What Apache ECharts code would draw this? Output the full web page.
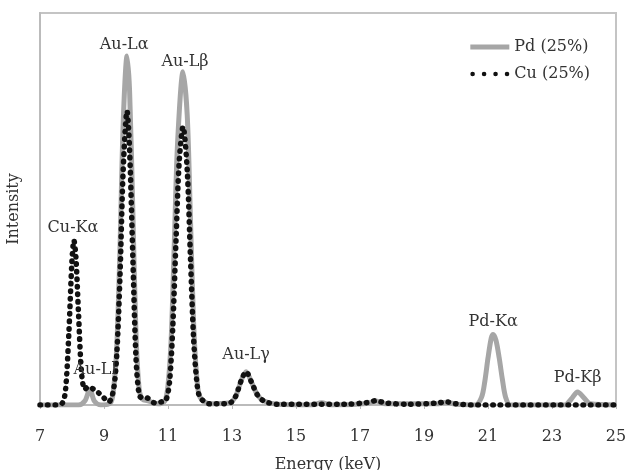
<!DOCTYPE html>
<html lang="en">
<head>
    <meta charset="UTF-8">
    <title>EDS spectrum</title>
    <script src="https://cdn.jsdelivr.net/npm/echarts@6/dist/echarts.min.js"></script>
    <style>
        html, body { margin: 0; padding: 0; background: #fff; }
        #chart { width: 625px; height: 470px; }
    </style>
</head>
<body>
    <div id="chart"></div>
    <script>
        // energy (keV) and intensity (0..100 = plot height)
        var pdEnergy = [7.0, 8.2, 8.4, 8.56, 8.7, 8.9, 9.2, 9.3, 9.4, 9.5, 9.6, 9.72, 9.8, 9.9, 10.0, 10.1, 10.2, 10.4, 10.7, 10.9,
            11.0, 11.1, 11.2, 11.3, 11.47, 11.6, 11.7, 11.8, 11.9, 12.0, 12.3, 12.9, 13.1, 13.3, 13.44, 13.6, 13.8, 14.0, 14.4,
            15.5, 15.8, 16.1, 17.2, 17.5, 17.8, 19.4, 19.7, 20.0, 20.6, 20.8, 20.9, 21.0, 21.1, 21.16, 21.25, 21.35, 21.45, 21.55,
            21.7, 23.4, 23.6, 23.8, 24.0, 24.2, 25.0];
        var pdValue = [0, 0, 1, 4, 1, 0, 0.5, 4, 15, 40, 72, 89, 80, 50, 18, 4, 1.5, 1, 0.3, 1,
            5, 17, 42, 67, 85, 74, 48, 21, 7, 2, 0.3, 0.5, 2, 6.5, 8.5, 6, 2.5, 1, 0.2,
            0, 0.6, 0, 0.4, 1, 0.3, 0.3, 0.7, 0.2, 0, 2, 6, 12, 17, 18, 16.5, 12, 6.5, 2,
            0, 0, 1.5, 3.3, 1.8, 0.3, 0];

        var cuEnergy = [7.0, 7.5, 7.7, 7.8, 7.9, 8.0, 8.06, 8.12, 8.2, 8.3, 8.4, 8.5, 8.6, 8.8, 9.0, 9.15, 9.3, 9.4, 9.5, 9.6,
            9.72, 9.8, 9.9, 10.0, 10.1, 10.2, 10.34, 10.6, 10.8, 10.94, 11.05, 11.15, 11.25, 11.35, 11.47, 11.6, 11.7, 11.8,
            11.9, 12.0, 12.3, 12.9, 13.1, 13.3, 13.44, 13.6, 13.8, 14.0, 14.4, 16.5, 17.2, 17.5, 17.8, 18.5, 19.4, 19.7,
            20.0, 20.5, 25.0];
        var cuValue = [0, 0, 0.5, 4, 18, 37, 42, 38, 24, 8, 4, 4.6, 4.4, 3.3, 1.8, 0.8, 4, 13, 33, 60,
            75, 65, 38, 12, 2.5, 1.8, 1.8, 0.5, 0.8, 1.3, 6, 20, 42, 62, 71, 60, 38, 17,
            6, 2, 0.3, 0.4, 2, 6.5, 8.5, 6, 2.5, 1, 0.2, 0.2, 0.6, 1.1, 0.5, 0.2, 0.5, 0.8,
            0.3, 0, 0];

        var xTicks = [7, 25, 2];
        var peakNames = ['Au-Lα', 'Au-Lβ', 'Cu-Kα', 'Au-Ll', 'Au-Lγ', 'Pd-Kα', 'Pd-Kβ'];
        var peakEnergy = [9.63, 11.53, 8.03, 8.72, 13.44, 21.16, 23.8];
        var peakLabelY = [91.8, 87.5, 45.2, 8.9, 12.8, 21.2, 6.9];

        var serif = '"DejaVu Serif", "Liberation Serif", serif';
        // four round dots for the Cu legend sample
        var dotsIcon = 'path://M0,2a2,2 0 1,0 4,0a2,2 0 1,0 -4,0M10,2a2,2 0 1,0 4,0a2,2 0 1,0 -4,0' +
            'M20,2a2,2 0 1,0 4,0a2,2 0 1,0 -4,0M30,2a2,2 0 1,0 4,0a2,2 0 1,0 -4,0';

        function pairs(xs, ys) {
            return xs.map(function (x, i) { return [x, ys[i]]; });
        }

        var chart = echarts.init(document.getElementById('chart'));
        var option = {
            animation: false,
            backgroundColor: '#fff',
            grid: {
                left: 40,
                right: 9,
                top: 13,
                bottom: 65,
                outerBoundsMode: 'none',
                show: true,
                borderColor: '#c4c4c4',
                borderWidth: 2
            },
            legend: {
                orient: 'vertical',
                right: 30,
                top: 34,
                itemWidth: 39,
                itemHeight: 5,
                itemGap: 11,
                textStyle: { fontFamily: serif, fontSize: 16, color: '#333' },
                data: [
                    { name: 'Pd (25%)', icon: 'rect' },
                    { name: 'Cu (25%)', icon: dotsIcon }
                ]
            },
            xAxis: {
                type: 'value',
                min: xTicks[0],
                max: xTicks[1],
                interval: xTicks[2],
                name: 'Energy (keV)',
                nameLocation: 'middle',
                nameGap: 52,
                nameTextStyle: { fontFamily: serif, fontSize: 16, color: '#333' },
                axisLine: { lineStyle: { color: '#bbb', width: 2 } },
                axisTick: { show: true, length: 4, lineStyle: { color: '#bbb' } },
                axisLabel: { fontFamily: serif, fontSize: 16, color: '#333', margin: 24 },
                splitLine: { show: false }
            },
            yAxis: {
                type: 'value',
                min: 0,
                max: 100,
                name: 'Intensity',
                nameLocation: 'middle',
                nameGap: 18,
                nameTextStyle: { fontFamily: serif, fontSize: 16, color: '#333' },
                axisLine: { show: true, lineStyle: { color: '#bbb', width: 2 } },
                axisTick: { show: false },
                axisLabel: { show: false },
                splitLine: { show: false }
            },
            series: [
                {
                    name: 'Pd (25%)',
                    type: 'line',
                    smooth: 0.3,
                    symbol: 'none',
                    color: '#a6a6a6',
                    lineStyle: { color: '#a6a6a6', width: 5 },
                    data: pairs(pdEnergy, pdValue),
                    z: 2
                },
                {
                    name: 'Cu (25%)',
                    type: 'line',
                    smooth: 0.3,
                    symbol: 'none',
                    color: '#111',
                    lineStyle: { color: '#111', width: 5.5, type: [0.5, 7], cap: 'round' },
                    data: pairs(cuEnergy, cuValue),
                    z: 3,
                    markPoint: {
                        symbol: 'circle',
                        symbolSize: 1,
                        itemStyle: { color: 'rgba(0,0,0,0)' },
                        label: {
                            show: true,
                            position: 'inside',
                            fontFamily: serif,
                            fontSize: 16,
                            color: '#333',
                            formatter: function (p) { return p.name; }
                        },
                        data: peakNames.map(function (n, i) {
                            return { name: n, coord: [peakEnergy[i], peakLabelY[i]] };
                        })
                    }
                }
            ]
        };
        chart.setOption(option);
    </script>
</body>
</html>
